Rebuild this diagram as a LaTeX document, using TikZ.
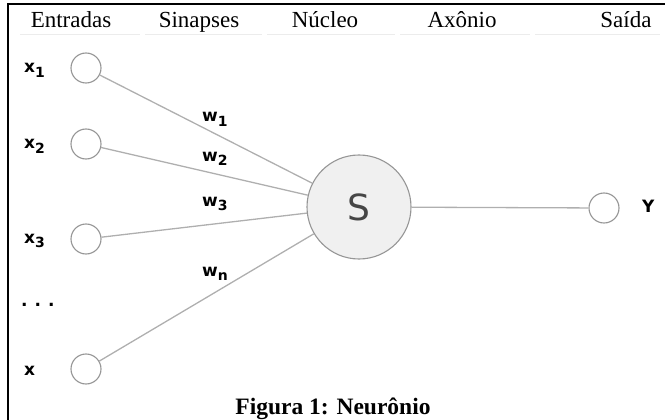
\documentclass[tikz,border=0pt]{standalone}
\usepackage{fontspec}
\setmainfont{Liberation Serif}
\newfontfamily\labelfont{DejaVu Sans}
\usetikzlibrary{positioning}
\definecolor{wirecolor}{RGB}{175, 175, 175}
\definecolor{ringcolor}{RGB}{150, 150, 150}
\definecolor{somacolor}{RGB}{240, 240, 240}
\definecolor{somatext}{RGB}{70, 70, 70}
\definecolor{rulecolor}{RGB}{236, 236, 236}
\newcommand{\lsub}[1]{\raisebox{-0.45ex}{\fontsize{14}{14}\selectfont #1}}

\begin{document}
\begin{tikzpicture}[
    x=1pt, y=-1pt,
    input/.style={circle, draw=ringcolor, fill=white, line width=1.1pt, minimum size=30pt, inner sep=0pt},
    soma/.style={circle, draw=ringcolor, fill=somacolor, line width=1.1pt, minimum size=104pt, inner sep=0pt,
                 text=somatext, font=\labelfont\fontsize{36}{36}\selectfont},
    wire/.style={draw=wirecolor, line width=1.3pt},
    lbl/.style={font=\labelfont\bfseries\fontsize{17}{17}\selectfont, inner sep=0pt, anchor=base west},
    head/.style={font=\fontsize{23}{23}\selectfont, inner sep=0pt, anchor=base},
]
\useasboundingbox (0,0) rectangle (665,420);

% --- frame (top and left only) ---
\draw[line width=2pt] (8,420) -- (8,4) -- (665,4);

% ======= HEADER =======
\node[head] (h-in)  at (71,28)  {Entradas};
\node[head] (h-syn) at (199,28) {Sinapses};
\node[head] (h-nuc) at (325,28) {Núcleo};
\node[head] (h-axo) at (462,28) {Axônio};
\node[head] (h-out) at (626,28) {Saída};
\foreach \a/\b in {20/140, 145/262, 267/395, 400/530, 535/660} {
    \draw[rulecolor, line width=1pt] (\a,35) -- (\b,35);
}

% ======= INPUTS =======
\def\inX{86}
\node[input] (x1) at (\inX,68)  {};
\node[input] (x2) at (\inX,144) {};
\node[input] (x3) at (\inX,239) {};
\node[input] (xn) at (\inX,369) {};

\node[lbl] (lx1) at (24,73)  {x\lsub{1}};
\node[lbl] (lx2) at (24,149) {x\lsub{2}};
\node[lbl] (lx3) at (24,243) {x\lsub{3}};
\node[lbl] (ldots) at (21,306) {.\hspace{7pt}.\hspace{7pt}.};
\node[lbl] (lxn) at (24,375) {x};

% ======= NUCLEUS AND OUTPUT =======
\node[soma] (S) at (359,207) {S};
\node[input] (Y) at (604,208) {};
\node[lbl] (ly) at (642,212) {Y};

% ======= CONNECTIONS =======
\foreach \i in {x1,x2,x3,xn} {
    \draw[wire] (\i) -- (S);
}
\draw[wire] (S) -- (Y);

% ======= WEIGHTS =======
\node[lbl] (w1) at (202,122) {w\lsub{1}};
\node[lbl] (w2) at (202,161) {w\lsub{2}};
\node[lbl] (w3) at (202,206) {w\lsub{3}};
\node[lbl] (wn) at (202,276) {w\lsub{n}};

% ======= CAPTION =======
\node[font=\bfseries\fontsize{23.5}{23.5}\selectfont, inner sep=0pt, anchor=base] (cap) at (333,414) {Figura 1: Neurônio};

\end{tikzpicture}
\end{document}
